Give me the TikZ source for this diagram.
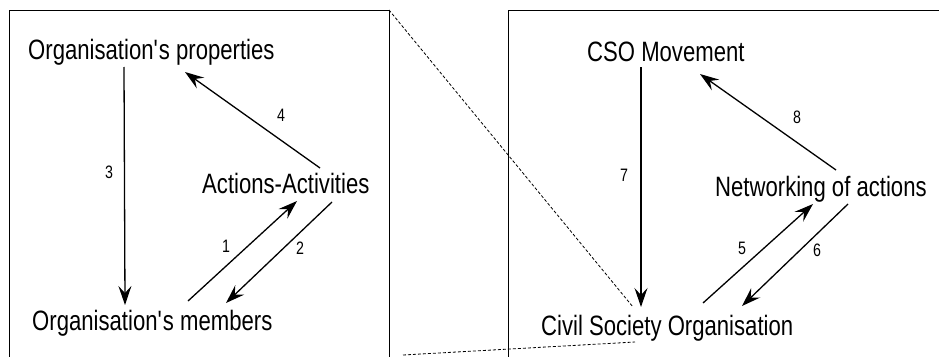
\documentclass[tikz,border=0pt]{standalone}
\usepackage{fontspec}
\setmainfont{Liberation Sans}[FakeStretch=0.79]
\usetikzlibrary{arrows.meta}
\begin{document}
\begin{tikzpicture}[x=1pt,y=-1pt,
  label text/.style={inner sep=0pt,anchor=base west,font=\fontsize{28}{30}\selectfont},
  num/.style={inner sep=0pt,font=\fontsize{18}{20}\selectfont},
  arr/.style={line width=1.3pt,-{Stealth[length=19pt,width=13pt,inset=7pt]}},
  frame/.style={line width=1pt},
  guide/.style={line width=0.8pt,dash pattern=on 3pt off 2pt}]
\useasboundingbox (0,0) rectangle (939,356);
\clip (0,0) rectangle (939,356);

% frames (open at the bottom / right)
\draw[frame] (9,360) -- (9,10) -- (389,10) -- (389,360);
\draw[frame] (508,360) -- (508,10) -- (945,10);

% left diagram
\node[label text] (props) at (28,59) {Organisation\textquotesingle s properties};
\node[label text] (memb) at (32,330) {Organisation\textquotesingle s members};
\node[label text] (acts) at (202,193) {Actions-Activities};

\coordinate (p3s) at (124,67);  \coordinate (p3e) at (125,305);
\coordinate (p4s) at (320,168); \coordinate (p4e) at (185,72);
\coordinate (p1s) at (188,301); \coordinate (p1e) at (297,201);
\coordinate (p2s) at (332,202); \coordinate (p2e) at (226,303);

\draw[arr] (p3s) -- (p3e);
\draw[arr] (p4s) -- (p4e);
\draw[arr] (p1s) -- (p1e);
\draw[arr] (p2s) -- (p2e);

\node[num] (n3) at (109,172) {3};
\node[num] (n4) at (281,115) {4};
\node[num] (n1) at (226,246) {1};
\node[num] (n2) at (300,248) {2};

% right diagram
\node[label text] (cso) at (587,61) {CSO Movement};
\node[label text] (net) at (715,196) {Networking of actions};
\node[label text] (civ) at (541,335) {Civil Society Organisation};

\coordinate (q7s) at (641,67);  \coordinate (q7e) at (641,307);
\coordinate (q8s) at (836,170); \coordinate (q8e) at (700,74);
\coordinate (q5s) at (703,303); \coordinate (q5e) at (813,204);
\coordinate (q6s) at (848,204); \coordinate (q6e) at (742,306);

\draw[arr] (q7s) -- (q7e);
\draw[arr] (q8s) -- (q8e);
\draw[arr] (q5s) -- (q5e);
\draw[arr] (q6s) -- (q6e);

\node[num] (n7) at (624,175) {7};
\node[num] (n8) at (797,117) {8};
\node[num] (n5) at (742,248) {5};
\node[num] (n6) at (817,250) {6};

% zoom guides from the left frame to the organisation
\coordinate (gA) at (389,10);  \coordinate (gB) at (633,307);
\coordinate (gC) at (403,355); \coordinate (gD) at (635,342);
\draw[guide] (gA) -- (gB);
\draw[guide] (gC) -- (gD);
\end{tikzpicture}
\end{document}
